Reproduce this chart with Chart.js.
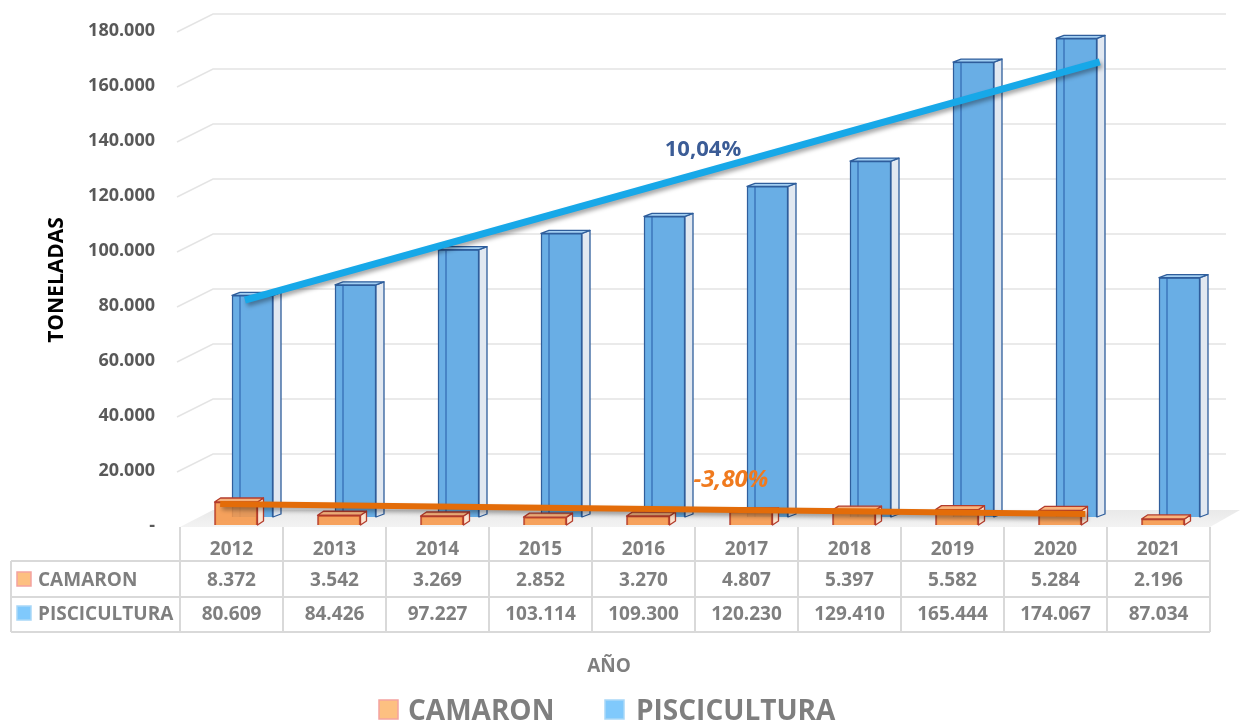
<!DOCTYPE html>
<html><head><meta charset="utf-8">
<script src="https://cdn.jsdelivr.net/npm/chart.js@4.4.1/dist/chart.umd.min.js"></script>
<style>html,body{margin:0;padding:0;background:#fff;}canvas{display:block;}</style>
</head><body>
<canvas id="c" width="1243" height="723"></canvas>
<script>
// ---------- data ----------
const years = ['2012','2013','2014','2015','2016','2017','2018','2019','2020','2021'];
const camaron = [8372, 3542, 3269, 2852, 3270, 4807, 5397, 5582, 5284, 2196];
const piscicultura = [80609, 84426, 97227, 103114, 109300, 120230, 129410, 165444, 174067, 87034];
const seriesNames = ['CAMARON', 'PISCICULTURA'];
const yMin = 0, yMax = 180000, yStep = 20000;
// trend lines as drawn in the picture (year position, tonnes)
const trendPisciX = [2012.13, 2020.43];
const trendPisciY = [78900, 165500];
const trendCamaronX = [2011.89, 2020.29];
const trendCamaronY = [4700, 1100];
const trendLabels = ['10,04%', '-3,80%'];
const axisTitleY = 'TONELADAS';
const axisTitleX = 'AÑO';

// ---------- helpers / styles ----------
const FONT = "'Open Sans', 'DejaVu Sans', sans-serif";
function fmt(v){ return v === 0 ? '-' : String(v).replace(/\B(?=(\d{3})+(?!\d))/g, '.'); }
const depth = [ {dx:4.5, dy:8, side:6, rise:4}, {dx:21, dy:0, side:8, rise:3} ];
const faces = [
  {top:'#f9b47e', side:'#fde4d0', line:'#b43c2c'},
  {top:'#a3cff2', side:'#e1e8f1', line:'#2f5e9c'}
];
const legendFill = ['#fdc081', '#80c9fc'];
const legendStroke = ['#f3a3a0', '#a9d7f7'];
const textGrey = '#7f7f7f';

const pseudo3d = {
  id: 'pseudo3d',
  afterDatasetsUpdate(chart){
    [0,1].forEach(i => {
      const meta = chart.getDatasetMeta(i), d = depth[i];
      meta.data.forEach(el => { el.x += d.dx; el.y += d.dy; el.base += d.dy; });
    });
  },
  beforeDatasetsDraw(chart){
    const ctx = chart.ctx, ca = chart.chartArea, ys = chart.scales.y;
    const L = ca.left, R = ca.right;
    const B = ys.getPixelForValue(0) + 10;
    ctx.save();
    const g = ctx.createLinearGradient(0, B - 17, 0, B);
    g.addColorStop(0, '#e9e9e9'); g.addColorStop(1, '#f3f3f3');
    ctx.fillStyle = g;
    ctx.beginPath();
    ctx.moveTo(L, B); ctx.lineTo(R, B); ctx.lineTo(R + 30, B - 17); ctx.lineTo(L + 33, B - 17);
    ctx.closePath(); ctx.fill();
    ctx.strokeStyle = '#e4e4e4'; ctx.lineWidth = 1.5;
    ys.ticks.forEach(t => {
      if (t.value <= 0) return;
      const py = ys.getPixelForValue(t.value);
      ctx.beginPath();
      ctx.moveTo(L - 3, py + 10); ctx.lineTo(L + 33, py - 8); ctx.lineTo(R + 16, py - 8);
      ctx.stroke();
    });
    ctx.restore();
  },
  beforeDatasetDraw(chart, args){
    if (args.index >= 2) {
      const ctx = chart.ctx;
      ctx.save();
      ctx.shadowColor = 'rgba(0,0,0,0.35)'; ctx.shadowBlur = 4; ctx.shadowOffsetX = 2; ctx.shadowOffsetY = 3;
    }
  },
  afterDatasetDraw(chart, args){
    const ctx = chart.ctx;
    if (args.index >= 2) { ctx.restore(); return; }
    const i = args.index, d = depth[i], f = faces[i];
    ctx.save();
    ctx.lineWidth = 1.3; ctx.strokeStyle = f.line; ctx.lineJoin = 'round';
    args.meta.data.forEach(el => {
      const left = el.x - el.width/2, right = el.x + el.width/2, top = el.y, bottom = el.base;
      const s = d.side, r = d.rise;
      ctx.fillStyle = f.side;
      ctx.beginPath();
      ctx.moveTo(right, top); ctx.lineTo(right + s, top - r); ctx.lineTo(right + s, bottom - r); ctx.lineTo(right, bottom);
      ctx.closePath(); ctx.fill(); ctx.stroke();
      ctx.fillStyle = f.top;
      ctx.beginPath();
      ctx.moveTo(left, top); ctx.lineTo(left + s, top - r); ctx.lineTo(right + s, top - r); ctx.lineTo(right, top);
      ctx.closePath(); ctx.fill(); ctx.stroke();
      if (i === 1) {
        ctx.save(); ctx.strokeStyle = 'rgba(40,95,170,0.7)'; ctx.lineWidth = 1.5;
        ctx.beginPath(); ctx.moveTo(left + 8, top); ctx.lineTo(left + 8, bottom); ctx.stroke(); ctx.restore();
      }
    });
    ctx.restore();
  },
  afterDraw(chart){
    const ctx = chart.ctx, ca = chart.chartArea, xs = chart.scales.x;
    const n = years.length, w = (ca.right - ca.left) / n;
    ctx.save();
    const yTop = 527, yR1 = 561, yR2 = 597, yBot = 632, xLab = 11;
    ctx.strokeStyle = '#d9d9d9'; ctx.lineWidth = 2;
    ctx.beginPath();
    for (let i = 0; i <= n; i++) { const x = ca.left + i*w; ctx.moveTo(x, yTop); ctx.lineTo(x, yBot); }
    [yR1, yR2, yBot].forEach(y => { ctx.moveTo(xLab, y); ctx.lineTo(ca.right, y); });
    ctx.moveTo(xLab, yR1); ctx.lineTo(xLab, yBot);
    ctx.stroke();
    ctx.fillStyle = textGrey; ctx.font = 'bold 19px ' + FONT; ctx.textBaseline = 'alphabetic';
    ctx.textAlign = 'center';
    years.forEach((yr, i) => {
      const cx = xs.getPixelForValue(i);
      ctx.fillText(yr, cx, 555);
      ctx.fillText(fmt(camaron[i]), cx, 586);
      ctx.fillText(fmt(piscicultura[i]), cx, 620);
    });
    ctx.textAlign = 'left';
    [[586, 0], [620, 1]].forEach(([by, k]) => {
      ctx.fillStyle = legendFill[k]; ctx.strokeStyle = legendStroke[k]; ctx.lineWidth = 1.5;
      ctx.fillRect(17, by - 14, 14, 14); ctx.strokeRect(17, by - 14, 14, 14);
      ctx.fillStyle = textGrey;
      ctx.fillText(seriesNames[k], 38, by);
    });
    ctx.textAlign = 'center'; ctx.font = 'bold 19px ' + FONT; ctx.fillStyle = textGrey;
    ctx.fillText(axisTitleX, 609, 672);
    ctx.font = 'bold 28px ' + FONT; ctx.textAlign = 'left';
    [[379, 408, 0], [605, 636, 1]].forEach(([sx, tx, k]) => {
      ctx.fillStyle = legendFill[k]; ctx.strokeStyle = legendStroke[k]; ctx.lineWidth = 1.5;
      ctx.fillRect(sx, 700, 19, 19); ctx.strokeRect(sx, 700, 19, 19);
      ctx.fillStyle = textGrey;
      ctx.fillText(seriesNames[k], tx, 720);
    });
    ctx.save();
    ctx.translate(57, 280); ctx.rotate(-Math.PI/2);
    ctx.font = 'bold 21px ' + FONT; ctx.fillStyle = '#000'; ctx.textAlign = 'center'; ctx.textBaseline = 'middle';
    ctx.fillText(axisTitleY, 0, 0);
    ctx.restore();
    ctx.textAlign = 'center';
    ctx.font = 'bold 22px ' + FONT; ctx.fillStyle = '#3b5c96';
    ctx.fillText(trendLabels[0], 703, 156);
    ctx.font = 'italic bold 24px ' + FONT; ctx.fillStyle = '#f07a1e';
    ctx.fillText(trendLabels[1], 731, 487);
    ctx.restore();
  }
};

new Chart(document.getElementById('c'), {
  type: 'bar',
  data: {
    labels: years,
    datasets: [
      { type:'bar', label: seriesNames[0], data: camaron, grouped:false, barThickness:43,
        backgroundColor:'rgba(246,150,72,0.88)', borderColor:'#b43c2c', borderWidth:1.5, clip:false, order:1 },
      { type:'bar', label: seriesNames[1], data: piscicultura, grouped:false, barThickness:41,
        backgroundColor:'#69aee5', borderColor:'#2f5e9c', borderWidth:1.5, clip:false, order:2 },
      { type:'line', label:'trend ' + seriesNames[1], xAxisID:'xt',
        data: trendPisciX.map((x, i) => ({x, y: trendPisciY[i]})),
        borderColor:'#17a8e8', borderWidth:7, pointRadius:0, borderCapStyle:'butt', clip:false, order:0 },
      { type:'line', label:'trend ' + seriesNames[0], xAxisID:'xt',
        data: trendCamaronX.map((x, i) => ({x, y: trendCamaronY[i]})),
        borderColor:'#e36c09', borderWidth:6, pointRadius:0, borderCapStyle:'butt', clip:false, order:0 }
    ]
  },
  options: {
    responsive: false,
    animation: false,
    font: { family: FONT },
    layout: { padding: { left: 0, right: 33, top: 22, bottom: 206 } },
    plugins: { legend: { display:false }, tooltip: { enabled:false } },
    scales: {
      x: { type:'category', offset:true, display:false },
      xt: { type:'linear', offset:false, grid:{offset:false}, bounds:'data',
            min: Number(years[0]) - 0.5, max: Number(years[years.length-1]) + 0.5, display:false },
      y: {
        min: yMin, max: yMax,
        ticks: { stepSize: yStep, callback: v => fmt(v), color:'#595959',
                 font:{ family: FONT, size:18, weight:'bold' }, padding:25, labelOffset:9 },
        grid: { display:false, drawTicks:false },
        border: { display:false },
        afterFit(s){ s.width = 180; s.paddingTop = 0; s.paddingBottom = 0; }
      }
    }
  },
  plugins: [pseudo3d]
});
</script>
</body></html>
